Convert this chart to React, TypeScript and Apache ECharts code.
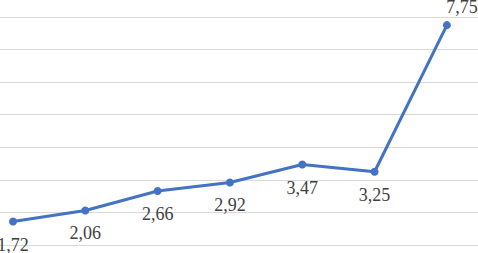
import React, { useEffect, useRef } from "react";
import * as echarts from "echarts";

const categories = ["1", "2", "3", "4", "5", "6", "7"];
const values = [1.72, 2.06, 2.66, 2.92, 3.47, 3.25, 7.75];
const labelTexts = ["1,72", "2,06", "2,66", "2,92", "3,47", "3,25", "7,75"];

const FONT = "'Liberation Serif', 'Times New Roman', serif";

export default function App() {
  const ref = useRef<HTMLDivElement>(null);
  useEffect(() => {
    if (!ref.current) return;
    const chart = echarts.init(ref.current, null, { renderer: "svg" });
    const lastIdx = values.length - 1;
    chart.setOption({
      animation: false,
      textStyle: { fontFamily: FONT },
      grid: { left: 0, right: 0, top: 17, bottom: 8, containLabel: false },
      xAxis: {
        type: "value",
        min: -0.18,
        max: 6.43,
        axisLine: { show: false },
        axisTick: { show: false },
        axisLabel: { show: false },
        splitLine: { show: false },
      },
      yAxis: {
        type: "value",
        min: 1,
        max: 8,
        interval: 1,
        axisLine: { show: false },
        axisTick: { show: false },
        axisLabel: { show: false },
        splitLine: { lineStyle: { color: "#d9d9d9", width: 1 } },
      },
      series: [
        {
          type: "line",
          name: categories.join(","),
          data: values.map((v, i) => ({
            value: [i, v],
            label:
              i === lastIdx
                ? { show: true, position: "top", distance: 5, offset: [15, 0], fontFamily: FONT, fontSize: 18, color: "#404040" }
                : { show: true, position: "bottom", distance: 10, fontFamily: FONT, fontSize: 18, color: "#404040" },
          })),
          symbol: "circle",
          symbolSize: 8,
          lineStyle: { color: "#4472C4", width: 3 },
          itemStyle: { color: "#4472C4" },
          label: {
            show: true,
            formatter: (p: any) => labelTexts[p.dataIndex],
            fontFamily: FONT,
            fontSize: 18,
            color: "#404040",
          },
        },
      ],
    });
    return () => chart.dispose();
  }, []);
  return <div ref={ref} style={{ width: 478, height: 253, position: "absolute", left: 0, top: 0 }} />;
}
